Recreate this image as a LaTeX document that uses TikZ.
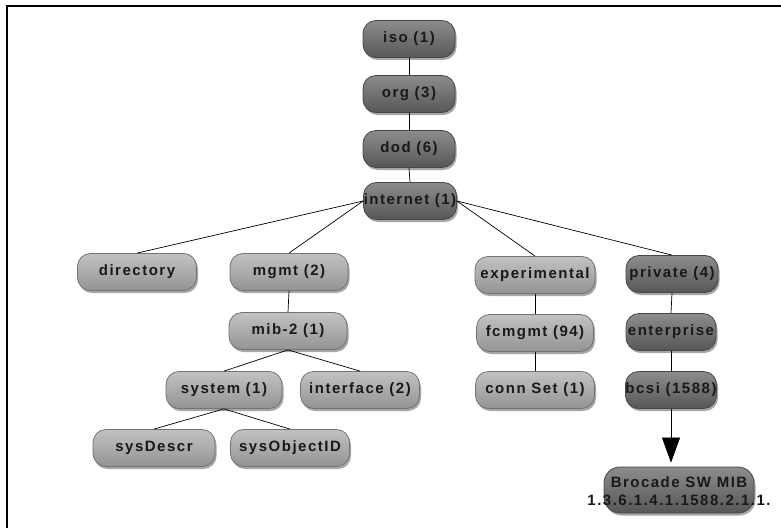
\documentclass[tikz,border=0pt]{standalone}
\usepackage{fontspec}
\setmainfont{Liberation Sans}[LetterSpace=10]
\usetikzlibrary{shadows,arrows.meta}
\tikzset{
  box/.style={rounded corners=13pt, inner sep=0pt, minimum height=37pt,
    font=\fontsize{15}{18}\selectfont\bfseries, text=black!90,
    line width=0.8pt,
    drop shadow={shadow xshift=1.5pt, shadow yshift=-2.5pt, opacity=0.35, fill=black}},
  lnode/.style={box, minimum width=118pt, draw=black!55,
    top color=black!24, middle color=black!13, bottom color=black!42},
  dnode/.style={box, minimum width=92pt, draw=black!72,
    top color=black!45, middle color=black!35, bottom color=black!66},
  edge/.style={draw=black, line width=0.7pt},
  frame/.style={draw=black, line width=2pt}
}
\begin{document}
\begin{tikzpicture}[x=1pt,y=-1pt]
\useasboundingbox (0,0) rectangle (781,527);
\fill[white] (0,0) rectangle (781,527);
\draw[frame] (782,6) -- (7,6) -- (7,528);

% top chain
\node[dnode] (iso) at (409,39) {iso (1)};
\node[dnode] (org) at (409,94) {org (3)};
\node[dnode] (dod) at (409,149) {dod (6)};
\node[dnode, minimum width=93pt] (internet) at (410,201) {internet (1)};

% row 2
\node[lnode, minimum width=119pt] (directory) at (137,272) {directory};
\node[lnode] (mgmt) at (289,272) {mgmt (2)};
\node[lnode, minimum width=120pt] (experimental) at (535,275) {experimental};
\node[dnode] (private) at (672,274) {private (4)};

% row 3
\node[lnode] (mib) at (288,331) {mib-2 (1)};
\node[lnode, minimum width=117pt] (fcmgmt) at (535,333) {fcmgmt (94)};
\node[dnode, minimum width=90pt] (enterprise) at (671,332) {enterprise};

% row 4
\node[lnode, minimum width=116pt] (system) at (224,390) {system (1)};
\node[lnode, minimum width=119pt] (interface) at (360,390) {interface (2)};
\node[lnode, minimum width=119pt] (connset) at (535,390) {conn Set (1)};
\node[dnode, minimum width=90pt] (bcsi) at (671,390) {bcsi (1588)};

% row 5
\node[lnode, minimum width=122pt] (sysdescr) at (154,448) {sysDescr};
\node[lnode, minimum width=119pt] (sysobj) at (290,448) {sysObjectID};

% Brocade
\node[dnode, minimum width=150pt, minimum height=46pt, rounded corners=16pt] (brocade) at (679,490) {};
\node[font=\fontsize{15}{18}\selectfont\bfseries, text=black!90, align=center, inner sep=0pt]
  (brocadetext) at (679,491) {Brocade SW MIB\\1.3.6.1.4.1.1588.2.1.1.};

% connectors
\draw[edge] (iso.south) -- (org.north);
\draw[edge] (org.south) -- (dod.north);
\draw[edge] (dod.south) -- (internet.north);
\draw[edge] (internet.west) -- (directory.north);
\draw[edge] (internet.west) -- (mgmt.north);
\draw[edge] (internet.east) -- (experimental.north);
\draw[edge] (internet.east) -- (private.north);
\draw[edge] (mgmt.south) -- (mib.north);
\draw[edge] (mib.south) -- (system.north);
\draw[edge] (mib.south) -- (interface.north);
\draw[edge] (system.south) -- (sysdescr.north);
\draw[edge] (system.south) -- (sysobj.north);
\draw[edge] (experimental.south) -- (fcmgmt.north);
\draw[edge] (fcmgmt.south) -- (connset.north);
\draw[edge] (private.south) -- (enterprise.north);
\draw[edge] (enterprise.south) -- (bcsi.north);
\coordinate (arrowend) at (bcsi.south |- brocade.north);
\draw[edge, shorten >=4pt, -{Triangle[length=25pt,width=18pt]}] (bcsi.south) -- (arrowend);
\end{tikzpicture}
\end{document}
